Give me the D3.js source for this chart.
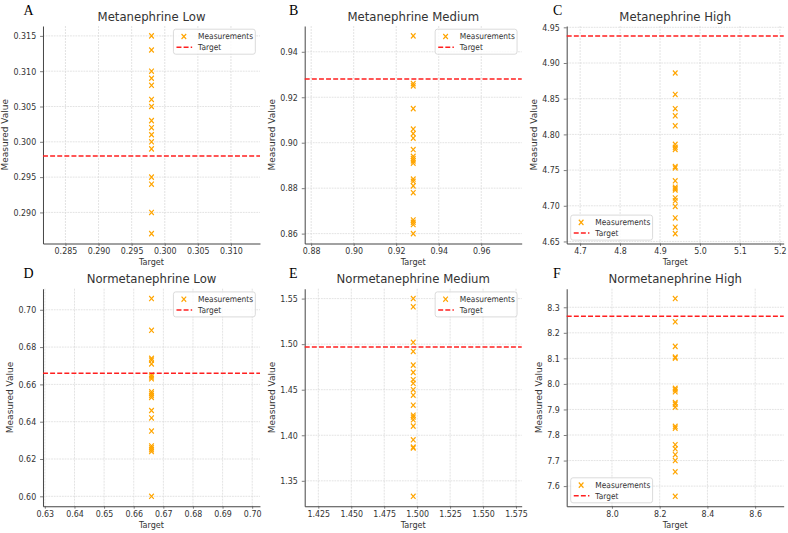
<!DOCTYPE html>
<html>
<head>
<meta charset="utf-8">
<script src="https://cdn.jsdelivr.net/npm/d3@7"></script>
<style>
  body { margin: 0; background: #fff; }
  text { font-family: "DejaVu Sans", sans-serif; fill: #333; }
  .letter { font-family: "Liberation Serif", serif; fill: #000; }
</style>
</head>
<body>
<script>
// data
const titles = ["Metanephrine Low", "Metanephrine Medium", "Metanephrine High",
                "Normetanephrine Low", "Normetanephrine Medium", "Normetanephrine High"];
const letters = ["A", "B", "C", "D", "E", "F"];
const targets = [0.298, 0.928, 4.938, 0.666, 1.497, 8.265];

const metLow  = [0.315, 0.313, 0.310, 0.309, 0.308, 0.306, 0.305, 0.303, 0.302, 0.301,
                 0.300, 0.299, 0.295, 0.294, 0.290, 0.287];
const metMed  = [0.947, 0.926, 0.925, 0.915, 0.906, 0.904, 0.902, 0.897, 0.894, 0.893,
                 0.892, 0.891, 0.884, 0.883, 0.881, 0.878, 0.866, 0.865, 0.864, 0.860];
const metHigh = [4.886, 4.856, 4.836, 4.826, 4.812, 4.786, 4.782, 4.779, 4.755, 4.753,
                 4.735, 4.726, 4.724, 4.722, 4.711, 4.707, 4.699, 4.683, 4.670, 4.661];
const normLow  = [0.706, 0.689, 0.674, 0.673, 0.671, 0.665, 0.664, 0.663, 0.656, 0.655,
                  0.654, 0.653, 0.646, 0.642, 0.635, 0.627, 0.626, 0.625, 0.624, 0.600];
const normMed  = [1.550, 1.541, 1.502, 1.492, 1.477, 1.469, 1.461, 1.457, 1.450, 1.444,
                  1.433, 1.422, 1.420, 1.417, 1.410, 1.395, 1.387, 1.386, 1.333];
const normHigh = [8.334, 8.243, 8.147, 8.105, 8.101, 7.983, 7.977, 7.969, 7.927, 7.921,
                  7.909, 7.834, 7.827, 7.762, 7.746, 7.723, 7.700, 7.656, 7.560];
const measurements = [metLow, metMed, metHigh, normLow, normMed, normHigh];

// tick labels per panel
const xTicks = [
  [0.285, 0.290, 0.295, 0.300, 0.305, 0.310],
  [0.88, 0.90, 0.92, 0.94, 0.96],
  [4.7, 4.8, 4.9, 5.0, 5.1, 5.2],
  [0.63, 0.64, 0.65, 0.66, 0.67, 0.68, 0.69, 0.70],
  [1.425, 1.450, 1.475, 1.500, 1.525, 1.550, 1.575],
  [8.0, 8.2, 8.4, 8.6]
];
const yTicks = [
  [0.290, 0.295, 0.300, 0.305, 0.310, 0.315],
  [0.86, 0.88, 0.90, 0.92, 0.94],
  [4.65, 4.70, 4.75, 4.80, 4.85, 4.90, 4.95],
  [0.60, 0.62, 0.64, 0.66, 0.68, 0.70],
  [1.35, 1.40, 1.45, 1.50, 1.55],
  [7.6, 7.7, 7.8, 7.9, 8.0, 8.1, 8.2, 8.3]
];
const xFormats = [".3f", ".2f", ".1f", ".2f", ".3f", ".1f"];
const yFormats = [".3f", ".2f", ".2f", ".2f", ".2f", ".1f"];
const legendCorner = ["ur", "ur", "ll", "ur", "ur", "ll"];

// the picture is squeezed horizontally, so draw wider and scale x
const SX = 0.9;
const colX = [47.8, 338.6, 629.7];
const rowY = [26, 288.7];
const letterX = [26, 321, 614.5];
const pw = 241.1, ph = 217.5;

const svg = d3.select("body").append("svg").attr("width", 788).attr("height", 533);
const root = svg.append("g").attr("transform", `scale(${SX},1)`);

const cross = d3.symbol(d3.symbolX, 19);

measurements.forEach((vals, i) => {
  const x0 = colX[i % 3], y0 = rowY[Math.floor(i / 3)];
  const t = targets[i];
  const g = root.append("g").attr("transform", `translate(${x0},${y0})`);

  const x = d3.scaleLinear().domain([t * 0.945, t * 1.055]).range([0, pw]);
  const lo = Math.min(d3.min(vals), t), hi = Math.max(d3.max(vals), t);
  const pad = (hi - lo) * 0.05;
  const y = d3.scaleLinear().domain([lo - pad, hi + pad]).range([ph, 0]);

  // grid
  g.selectAll(".gx").data(xTicks[i]).enter().append("line")
    .attr("x1", d => x(d)).attr("x2", d => x(d)).attr("y1", 0).attr("y2", ph)
    .attr("stroke", "#dadada").attr("stroke-width", 0.8).attr("stroke-dasharray", "2,1");
  g.selectAll(".gy").data(yTicks[i]).enter().append("line")
    .attr("x1", 0).attr("x2", pw).attr("y1", d => y(d)).attr("y2", d => y(d))
    .attr("stroke", "#dadada").attr("stroke-width", 0.8).attr("stroke-dasharray", "2,1");

  // axes
  const xa = g.append("g").attr("transform", `translate(0,${ph})`)
    .call(d3.axisBottom(x).tickValues(xTicks[i]).tickFormat(d3.format(xFormats[i]))
      .tickSizeInner(2.5).tickSizeOuter(0).tickPadding(1.7));
  const ya = g.append("g")
    .call(d3.axisLeft(y).tickValues(yTicks[i]).tickFormat(d3.format(yFormats[i]))
      .tickSizeInner(3.3).tickSizeOuter(0).tickPadding(4.3));
  [xa, ya].forEach(a => {
    a.select(".domain").attr("stroke", "#444").attr("stroke-width", 1.1);
    a.selectAll(".tick line").attr("stroke", "#555").attr("stroke-width", 0.8);
    a.selectAll(".tick text").attr("font-size", 8.8).attr("fill", "#333")
      .style("font-family", "DejaVu Sans");
  });

  // points
  g.selectAll(".pt").data(vals).enter().append("path")
    .attr("d", cross)
    .attr("transform", d => `translate(${x(t)},${y(d)})`)
    .attr("fill", "none").attr("stroke", "#ffa500").attr("stroke-width", 1.3);

  // target line
  g.append("line").attr("x1", 0).attr("x2", pw).attr("y1", y(t)).attr("y2", y(t))
    .attr("stroke", "#ff1f1f").attr("stroke-width", 1.5).attr("stroke-dasharray", "5.5,2.4");

  // titles and labels
  g.append("text").attr("x", pw / 2).attr("y", -5.3).attr("text-anchor", "middle")
    .attr("font-size", 13).text(titles[i]);
  g.append("text").attr("x", pw / 2).attr("y", ph + 21.5).attr("text-anchor", "middle")
    .attr("font-size", 9).text("Target");
  const bb = ya.node().getBBox();
  g.append("text")
    .attr("transform", `translate(${bb.x - 9.5},${ph / 2}) rotate(-90)`)
    .attr("dy", "0.35em").attr("text-anchor", "middle")
    .attr("font-size", 9).text("Measured Value");

  root.append("text").attr("class", "letter")
    .attr("x", letterX[i % 3]).attr("y", y0 - 11)
    .attr("font-size", 15.5).text(letters[i]);

  // legend
  const lw = 91, lh = 25;
  const lg = g.append("g").attr("transform", legendCorner[i] === "ur"
    ? `translate(${pw - 5.2 - lw},3.2)` : `translate(4.4,${ph - 3.4 - lh})`);
  lg.append("rect").attr("width", lw).attr("height", lh).attr("rx", 2.5)
    .attr("fill", "#fff").attr("fill-opacity", 0.8)
    .attr("stroke", "#d0d0d0").attr("stroke-width", 0.8);
  lg.append("path").attr("d", cross).attr("transform", "translate(11.6,7.3)")
    .attr("fill", "none").attr("stroke", "#ffa500").attr("stroke-width", 1.3);
  lg.append("line").attr("x1", 3.4).attr("x2", 20.8).attr("y1", 18).attr("y2", 18)
    .attr("stroke", "#ff1f1f").attr("stroke-width", 1.5).attr("stroke-dasharray", "5.5,2.4");
  lg.append("text").attr("x", 27.4).attr("y", 7.3).attr("dy", "0.35em")
    .attr("font-size", 8.3).text("Measurements");
  lg.append("text").attr("x", 27.4).attr("y", 18).attr("dy", "0.35em")
    .attr("font-size", 8.3).text("Target");
});
</script>
</body>
</html>
